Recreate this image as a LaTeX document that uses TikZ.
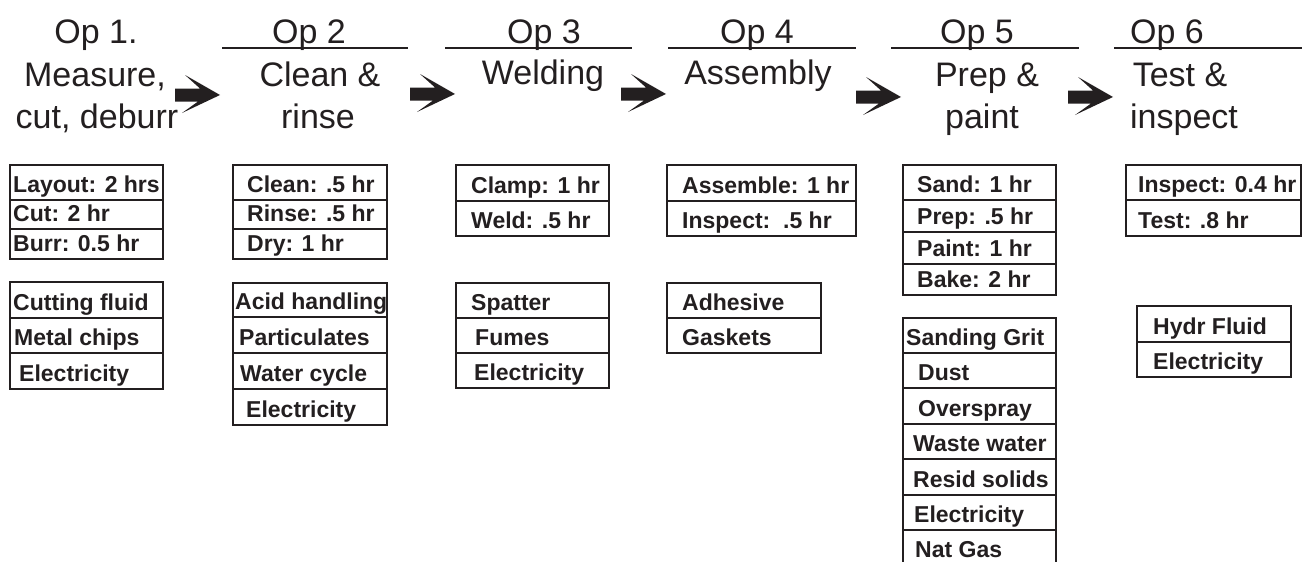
\documentclass[tikz,border=0pt]{standalone}
\usepackage{fontspec}
\setmainfont{Liberation Sans}
\definecolor{ink}{RGB}{35,31,32}
\tikzset{
  head/.style={font=\fontsize{34}{40}\selectfont, text=ink, inner sep=0pt, anchor=base},
  celltext/.style={font=\fontsize{23}{26}\selectfont\bfseries, text=ink, inner sep=0pt, anchor=base west},
  cellline/.style={draw=ink, line width=1.6pt},
  hline/.style={draw=ink, line width=2pt},
  arrowfill/.style={fill=ink}
}
\newcommand\rowcell[7]{\draw[cellline] (#2,#3) rectangle (#2+#5,#4); \node[celltext] (#1) at (#6,#4-8) {#7};}
\newcommand\bigarrow[2]{\fill[arrowfill] (#1,#2-6.5) -- (#1+25,#2-6.5) -- (#1+10,#2-20) -- (#1+45,#2) -- (#1+7,#2+18) -- (#1+23,#2+6.5) -- (#1,#2+6.5) -- cycle;}
\begin{document}
\begin{tikzpicture}[x=1pt,y=-1pt]
\useasboundingbox (0,0) rectangle (1302,562);
% headers
\node[head] (h1a) at (96,43) {Op 1.};
\node[head] (h1b) at (95,86) {Measure,};
\node[head] (h1c) at (97,128) {cut, deburr};
\node[head] (h2a) at (309,43) {Op 2};
\node[head] (h2b) at (320,86) {Clean \&};
\node[head] (h2c) at (318,128) {rinse};
\node[head] (h3a) at (544,43) {Op 3};
\node[head] (h3b) at (543,84) {Welding};
\node[head] (h4a) at (757,43) {Op 4};
\node[head] (h4b) at (758,84) {Assembly};
\node[head] (h5a) at (977,43) {Op 5};
\node[head] (h5b) at (987,86) {Prep \&};
\node[head] (h5c) at (982,128) {paint};
\node[head] (h6a) at (1167,43) {Op 6};
\node[head] (h6b) at (1180,86) {Test \&};
\node[head] (h6c) at (1184,128) {inspect};
% header rules
\draw[hline] (222,48) -- (408,48);
\draw[hline] (445,48) -- (632,48);
\draw[hline] (668,48) -- (856,48);
\draw[hline] (891,48) -- (1079,48);
\draw[hline] (1114,48) -- (1302,48);
% arrows
\bigarrow{175}{95}
\bigarrow{410}{94}
\bigarrow{621}{94}
\bigarrow{856}{97}
\bigarrow{1068}{97}
% Op 1
\rowcell{t1a}{10}{165}{200}{153}{13}{Layout: 2 hrs}
\rowcell{t1b}{10}{200}{229}{153}{13}{Cut: 2 hr}
\rowcell{t1c}{10}{229}{259}{153}{13}{Burr: 0.5 hr}
\rowcell{w1a}{10}{282}{318}{153}{13}{Cutting fluid}
\rowcell{w1b}{10}{318}{353}{153}{14}{Metal chips}
\rowcell{w1c}{10}{353}{389}{153}{19}{Electricity}
% Op 2
\rowcell{t2a}{233}{165}{200}{154}{247}{Clean: .5 hr}
\rowcell{t2b}{233}{200}{229}{154}{247}{Rinse: .5 hr}
\rowcell{t2c}{233}{229}{259}{154}{247}{Dry: 1 hr}
\rowcell{w2a}{233}{283}{317}{154}{235}{Acid handling}
\rowcell{w2b}{233}{317}{353}{154}{239}{Particulates}
\rowcell{w2c}{233}{353}{389}{154}{240}{Water cycle}
\rowcell{w2d}{233}{389}{425}{154}{246}{Electricity}
% Op 3
\rowcell{t3a}{456}{165}{201}{153}{471}{Clamp: 1 hr}
\rowcell{t3b}{456}{201}{236}{153}{471}{Weld: .5 hr}
\rowcell{w3a}{456}{283}{318}{153}{471}{Spatter}
\rowcell{w3b}{456}{318}{353}{153}{475}{Fumes}
\rowcell{w3c}{456}{353}{388}{153}{474}{Electricity}
% Op 4
\rowcell{t4a}{667}{165}{201}{189}{682}{Assemble: 1 hr}
\rowcell{t4b}{667}{201}{236}{189}{682}{Inspect:\ \ .5 hr}
\rowcell{w4a}{667}{283}{318}{154}{682}{Adhesive}
\rowcell{w4b}{667}{318}{353}{154}{682}{Gaskets}
% Op 5
\rowcell{t5a}{903}{165}{200}{153}{917}{Sand: 1 hr}
\rowcell{t5b}{903}{200}{232}{153}{917}{Prep: .5 hr}
\rowcell{t5c}{903}{232}{264}{153}{917}{Paint: 1 hr}
\rowcell{t5d}{903}{264}{295}{153}{917}{Bake: 2 hr}
\rowcell{w5a}{903}{318}{353}{153}{906}{Sanding Grit}
\rowcell{w5b}{903}{353}{388}{153}{918}{Dust}
\rowcell{w5c}{903}{388}{424}{153}{918}{Overspray}
\rowcell{w5d}{903}{424}{459}{153}{913}{Waste water}
\rowcell{w5e}{903}{459}{495}{153}{913}{Resid solids}
\rowcell{w5f}{903}{495}{530}{153}{914}{Electricity}
\draw[cellline] (903,564) -- (903,530) -- (1056,530) -- (1056,564);
\node[celltext] (w5g) at (915,557) {Nat Gas};
% Op 6
\rowcell{t6a}{1126}{165}{200}{175}{1138}{Inspect: 0.4 hr}
\rowcell{t6b}{1126}{200}{236}{175}{1138}{Test: .8 hr}
\rowcell{w6a}{1137}{306}{342}{154}{1153}{Hydr Fluid}
\rowcell{w6b}{1137}{342}{377}{154}{1153}{Electricity}
\end{tikzpicture}
\end{document}
